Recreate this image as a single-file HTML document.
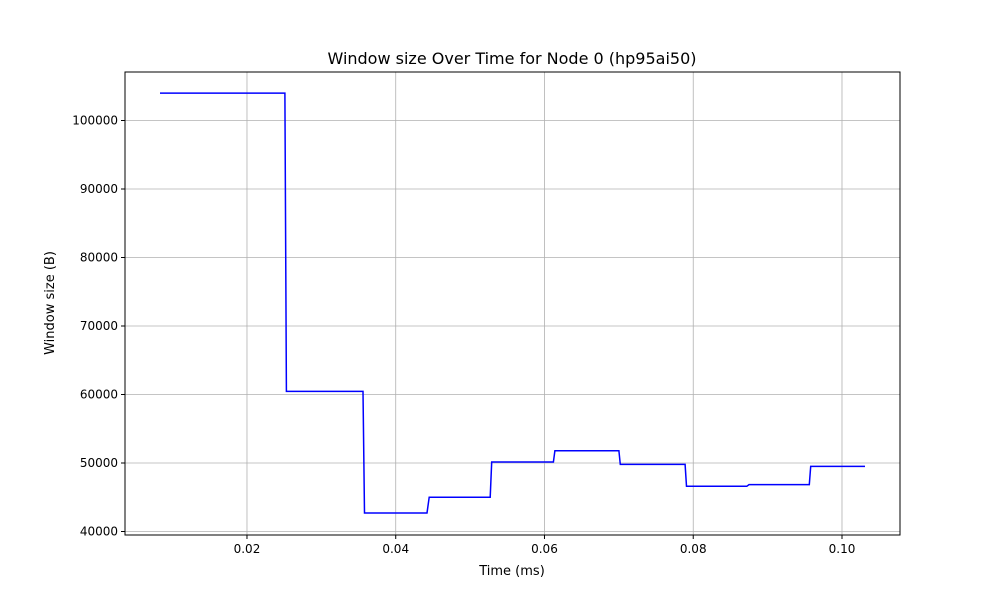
<!DOCTYPE html>
<html><head><meta charset="utf-8"><style>
body{margin:0;background:#fff;font-family:"Liberation Sans","DejaVu Sans",sans-serif;}
svg text{font-family:"DejaVu Sans","Liberation Sans",sans-serif;}
</style></head><body>
<svg id="chart" width="1000" height="600" viewBox="0 0 1000 600" xmlns="http://www.w3.org/2000/svg">
<rect width="1000" height="600" fill="#fff"/>
<g id="grid"></g>
<g id="ticks"></g>
<path id="series" fill="none" stroke="#0000ff" stroke-width="1.5"/>
<rect x="125" y="72" width="775" height="463" fill="none" stroke="#000" stroke-width="1"/>
<text x="512" y="64" text-anchor="middle" font-size="16">Window size Over Time for Node 0 (hp95ai50)</text>
<text x="512" y="575" text-anchor="middle" font-size="13">Time (ms)</text>
<text transform="translate(54,303) rotate(-90)" text-anchor="middle" font-size="13">Window size (B)</text>
</svg>
<script>
const times=[0.0083,0.0251,0.0253,0.0356,0.0358,0.0442,0.0445,0.0527,0.0529,0.0612,0.0614,0.0700,0.0702,0.0789,0.0791,0.0872,0.0875,0.0956,0.0958,0.1031];
const values=[104000,104000,60450,60450,42700,42700,45000,45000,50150,50150,51800,51800,49800,49800,46600,46600,46850,46850,49500,49500];
const xTicks=[0.02,0.04,0.06,0.08,0.10];
const xTickLabels=["0.02","0.04","0.06","0.08","0.10"];
const yTicks=[40000,50000,60000,70000,80000,90000,100000];
const yTickLabels=["40000","50000","60000","70000","80000","90000","100000"];
const L=125,R=900,T=72,B=535,xMin=0.0036,xMax=0.1078,yMin=39489,yMax=107080;
function xs(v){return L+(v-xMin)/(xMax-xMin)*(R-L);}
function ys(v){return B-(v-yMin)/(yMax-yMin)*(B-T);}
const NS="http://www.w3.org/2000/svg";
const grid=document.getElementById('grid'),tk=document.getElementById('ticks');
function mk(tag,attrs,parent){const e=document.createElementNS(NS,tag);for(const k in attrs)e.setAttribute(k,attrs[k]);parent.appendChild(e);return e;}
xTicks.forEach((t,i)=>{const x=xs(t);
 const g=mk('line',{x1:x,x2:x,y1:T,y2:B,stroke:'#b0b0b0','stroke-width':0.8},grid);
 
 
 mk('line',{x1:x,x2:x,y1:B,y2:B+4,stroke:'#000'},tk);
 const tx=mk('text',{x:x,y:B+18,'text-anchor':'middle','font-size':12},tk);tx.textContent=xTickLabels[i];
 
 
});
yTicks.forEach((t,i)=>{const y=ys(t);
 const g=mk('line',{x1:L,x2:R,y1:y,y2:y,stroke:'#b0b0b0','stroke-width':0.8},grid);
 
 
 mk('line',{x1:L-4,x2:L,y1:y,y2:y,stroke:'#000'},tk);
 const tx=mk('text',{x:L-7,y:y+4,'text-anchor':'end','font-size':12},tk);tx.textContent=yTickLabels[i];
 
 
});
document.getElementById('series').setAttribute('d',times.map((t,i)=>(i?'L':'M')+xs(t).toFixed(1)+','+ys(values[i]).toFixed(1)).join(''));
</script>
</body></html>
